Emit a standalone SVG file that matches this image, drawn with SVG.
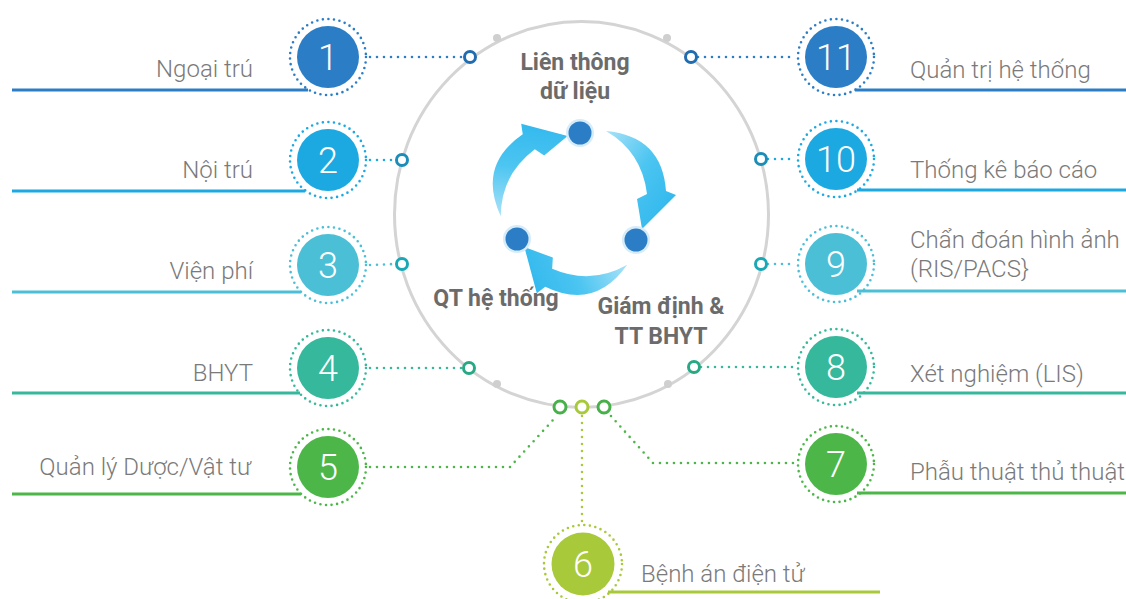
<svg xmlns="http://www.w3.org/2000/svg" width="1126" height="599" viewBox="0 0 1126 599">
  <defs>
    <linearGradient id="arrowFill" x1="0" y1="0" x2="1" y2="1">
      <stop offset="0" stop-color="#a9e2f8"/>
      <stop offset="0.45" stop-color="#4cc5f1"/>
      <stop offset="1" stop-color="#29b4ec"/>
    </linearGradient>
    <!-- one curved cycle arrow, reused three times by rotation -->
    <path id="cycleArrow" d="M606 131 Q662 136 666 191 L676 195 L642 229 L637 199 L647 194 Q642 152 606 131 Z"/>
    <style>
      .label { font-family: Roboto, "Liberation Sans", sans-serif; font-weight: 300; font-size: 24px; fill: #7a7a7a; }
      .hub { font-family: Roboto, "Liberation Sans", sans-serif; font-weight: 700; font-size: 23px; fill: #6b6b6b; text-anchor: middle; }
      .num { font-family: Roboto, "Liberation Sans", sans-serif; font-weight: 300; font-size: 36px; fill: #ffffff; text-anchor: middle; }
      .under { stroke-width: 3; fill: none; }
      .port { fill: #ffffff; stroke-width: 3; }
      .c1 { fill: #2b7ec6; stroke: #2b7ec6; }
      .c2 { fill: #1ca9e2; stroke: #1ca9e2; }
      .c3 { fill: #4bbfd6; stroke: #4bbfd6; }
      .c4 { fill: #35b89b; stroke: #35b89b; }
      .c5 { fill: #4cb748; stroke: #4cb748; }
      .c6 { fill: #a8c93a; stroke: #a8c93a; }
      .disc { stroke: none; }
      .ring.ring { fill: none; stroke-width: 2.6; stroke-dasharray: 0 5.6; stroke-linecap: round; }
      .dots.dots { fill: none; stroke-width: 2.6; stroke-dasharray: 0 7; stroke-linecap: round; stroke-linejoin: round; }
    </style>
  </defs>

  <rect width="1126" height="599" fill="#ffffff"/>

  <!-- central ring -->
  <g id="hub">
    <ellipse cx="581.5" cy="214.5" rx="187" ry="193" fill="none" stroke="#d4d4d4" stroke-width="3"/>
    <g fill="#cfcfcf">
      <circle cx="497" cy="38" r="4"/>
      <circle cx="667" cy="38" r="4"/>
      <circle cx="497" cy="384" r="4"/>
      <circle cx="668" cy="384" r="4"/>
    </g>
    <g fill="url(#arrowFill)">
      <use href="#cycleArrow"/>
      <use href="#cycleArrow" transform="rotate(120 578 204)"/>
      <use href="#cycleArrow" transform="rotate(240 578 204)"/>
    </g>
    <g fill="#d6ecf9">
      <circle cx="580" cy="133" r="14"/>
      <circle cx="517" cy="239" r="14"/>
      <circle cx="636" cy="240" r="14"/>
    </g>
    <g fill="#2b7ec6">
      <circle cx="580" cy="133" r="11.5"/>
      <circle cx="517" cy="239" r="11.5"/>
      <circle cx="636" cy="240" r="11.5"/>
    </g>
    <text class="hub" x="575" y="70">Liên thông</text>
    <text class="hub" x="575" y="99">dữ liệu</text>
    <text class="hub" x="496" y="306">QT hệ thống</text>
    <text class="hub" x="661" y="314">Giám định &amp;</text>
    <text class="hub" x="661" y="344">TT BHYT</text>
  </g>

  <!-- dotted links from the nodes to the ring -->
  <g id="connectors">
    <polyline class="dots c1" points="370,57 463,57"/>
    <polyline class="dots c1" points="698,57 795,57"/>
    <polyline class="dots c2" points="370,160 395,160"/>
    <polyline class="dots c2" points="768,159 795,159"/>
    <polyline class="dots c3" points="370,265 395,264"/>
    <polyline class="dots c3" points="768,264 795,264"/>
    <polyline class="dots c4" points="370,368 462,368"/>
    <polyline class="dots c4" points="701,367 795,367"/>
    <polyline class="dots c5" points="370,467 510,467 553,420"/>
    <polyline class="dots c6" points="582,416 582,522"/>
    <polyline class="dots c5" points="611,416 653,463 795,463"/>
    <!-- ports on the ring -->
    <circle class="port" stroke="#1f6cb0" cx="470" cy="57" r="5.5"/>
    <circle class="port" stroke="#1f6cb0" cx="691" cy="57" r="5.5"/>
    <circle class="port" stroke="#1b8db8" cx="402" cy="160" r="5.5"/>
    <circle class="port" stroke="#1b8db8" cx="761" cy="159" r="5.5"/>
    <circle class="port" stroke="#1ba8b6" cx="402" cy="264" r="5.5"/>
    <circle class="port" stroke="#1ba8b6" cx="761" cy="264" r="5.5"/>
    <circle class="port" stroke="#27a985" cx="469" cy="368" r="5.5"/>
    <circle class="port" stroke="#27a985" cx="694" cy="367" r="5.5"/>
    <circle class="port" stroke="#47b04a" cx="560" cy="407" r="6"/>
    <circle class="port" stroke="#a8c93a" cx="582" cy="407" r="6"/>
    <circle class="port" stroke="#47b04a" cx="604" cy="407" r="6"/>
  </g>

  <!-- left column -->
  <g id="node1">
    <line class="under c1" x1="12" y1="90" x2="308" y2="90"/>
    <circle class="ring c1" cx="328" cy="57" r="38"/>
    <circle class="disc c1" cx="328" cy="57" r="31"/>
    <text class="num" x="328" y="70">1</text>
    <text class="label" x="253" y="77" text-anchor="end">Ngoại trú</text>
  </g>
  <g id="node2">
    <line class="under c2" x1="12" y1="191" x2="305" y2="191"/>
    <circle class="ring c2" cx="328" cy="160" r="38"/>
    <circle class="disc c2" cx="328" cy="160" r="31"/>
    <text class="num" x="328" y="173">2</text>
    <text class="label" x="253" y="178" text-anchor="end">Nội trú</text>
  </g>
  <g id="node3">
    <line class="under c3" x1="12" y1="292" x2="301" y2="292"/>
    <circle class="ring c3" cx="328" cy="265" r="38"/>
    <circle class="disc c3" cx="328" cy="265" r="31"/>
    <text class="num" x="328" y="278">3</text>
    <text class="label" x="253" y="279" text-anchor="end">Viện phí</text>
  </g>
  <g id="node4">
    <line class="under c4" x1="12" y1="393" x2="300" y2="393"/>
    <circle class="ring c4" cx="328" cy="368" r="38"/>
    <circle class="disc c4" cx="328" cy="368" r="31"/>
    <text class="num" x="328" y="381">4</text>
    <text class="label" x="253" y="381" text-anchor="end">BHYT</text>
  </g>
  <g id="node5">
    <line class="under c5" x1="12" y1="494" x2="301" y2="494"/>
    <circle class="ring c5" cx="328" cy="467" r="38"/>
    <circle class="disc c5" cx="328" cy="467" r="31"/>
    <text class="num" x="328" y="480">5</text>
    <text class="label" x="251" y="475" text-anchor="end">Quản lý Dược/Vật tư</text>
  </g>

  <!-- bottom -->
  <g id="node6">
    <line class="under c6" x1="608" y1="592" x2="880" y2="592"/>
    <circle class="ring c6" cx="583" cy="564" r="39"/>
    <circle class="disc c6" cx="583" cy="564" r="31.5"/>
    <text class="num" x="583" y="577">6</text>
    <text class="label" x="641" y="582">Bệnh án điện tử</text>
  </g>

  <!-- right column -->
  <g id="node7">
    <line class="under c5" x1="857" y1="493" x2="1126" y2="493"/>
    <circle class="ring c5" cx="836" cy="464" r="38"/>
    <circle class="disc c5" cx="836" cy="464" r="31"/>
    <text class="num" x="836" y="477">7</text>
    <text class="label" x="910" y="480">Phẫu thuật thủ thuật</text>
  </g>
  <g id="node8">
    <line class="under c4" x1="857" y1="393" x2="1126" y2="393"/>
    <circle class="ring c4" cx="836" cy="367" r="38"/>
    <circle class="disc c4" cx="836" cy="367" r="31"/>
    <text class="num" x="836" y="380">8</text>
    <text class="label" x="910" y="382">Xét nghiệm (LIS)</text>
  </g>
  <g id="node9">
    <line class="under c3" x1="857" y1="291" x2="1126" y2="291"/>
    <circle class="ring c3" cx="836" cy="264" r="38"/>
    <circle class="disc c3" cx="836" cy="264" r="31"/>
    <text class="num" x="836" y="277">9</text>
    <text class="label" x="910" y="248">Chẩn đoán hình ảnh</text>
    <text class="label" x="910" y="277">(RIS/PACS}</text>
  </g>
  <g id="node10">
    <line class="under c2" x1="857" y1="190" x2="1126" y2="190"/>
    <circle class="ring c2" cx="836" cy="159" r="38"/>
    <circle class="disc c2" cx="836" cy="159" r="31"/>
    <text class="num" x="836" y="172">10</text>
    <text class="label" x="910" y="178">Thống kê báo cáo</text>
  </g>
  <g id="node11">
    <line class="under c1" x1="855" y1="90" x2="1126" y2="90"/>
    <circle class="ring c1" cx="836" cy="57" r="38"/>
    <circle class="disc c1" cx="836" cy="57" r="31"/>
    <text class="num" x="836" y="70">11</text>
    <text class="label" x="910" y="78">Quản trị hệ thống</text>
  </g>
</svg>
